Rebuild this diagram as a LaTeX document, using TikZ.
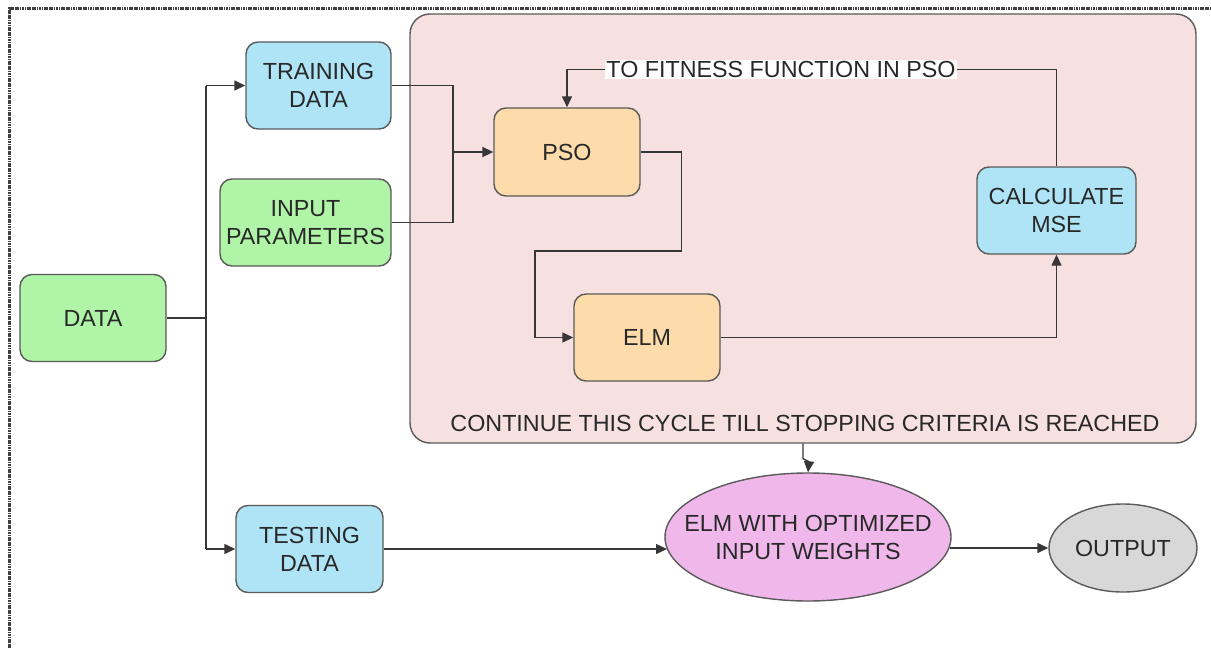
\documentclass[tikz,border=0pt]{standalone}
\usepackage{fontspec}
\setmainfont{Liberation Sans}
\usetikzlibrary{arrows.meta,shapes.geometric}

\definecolor{boxgreen}{RGB}{176,244,168}
\definecolor{boxblue}{RGB}{174,228,246}
\definecolor{boxorange}{RGB}{253,219,170}
\definecolor{cyclepink}{RGB}{246,224,224}
\definecolor{ellpink}{RGB}{240,184,234}
\definecolor{ellgray}{RGB}{216,216,216}
\definecolor{edgegray}{RGB}{90,90,90}
\definecolor{wiregray}{RGB}{55,55,55}
\definecolor{txtgray}{RGB}{40,40,40}

\tikzset{
  lbl/.style={text=txtgray, align=center, inner sep=0pt,
    font=\fontsize{23.3}{28}\selectfont},
  base/.style={lbl, draw=edgegray, line width=1.4pt},
  rbox/.style={base, rectangle, rounded corners=12pt,
    minimum width=#1},
  greenbox/.style={rbox=146pt, fill=boxgreen, minimum height=87pt},
  bluebox/.style={rbox=146pt, fill=boxblue, minimum height=87pt},
  orangebox/.style={rbox=146pt, fill=boxorange, minimum height=87pt},
  ellnode/.style={base, ellipse},
  wire/.style={draw=wiregray, line width=1.4pt},
  arrow/.style={wire, -{Triangle[length=11pt,width=10pt]}},
  frameline/.style={draw=black!75, line width=3pt, dash pattern=on 1.2pt off 0.5pt}
}

\begin{document}
\begin{tikzpicture}[x=1pt,y=-1pt]
\useasboundingbox (0,0) rectangle (1211,648);
\fill[white] (0,0) rectangle (1211,648);

% page frame
\draw[frameline] (1211,8) -- (9,8) -- (9,648);

% optimisation cycle container
\node[base, rectangle, rounded corners=20pt, fill=cyclepink,
      minimum width=786pt, minimum height=429pt] (cycle) at (803,228.5) {};
\node[lbl] (cyclelbl) at (805,423) {CONTINUE THIS CYCLE TILL STOPPING CRITERIA IS REACHED};

% boxes
\node[greenbox] (data) at (93,318) {DATA};
\node[bluebox, minimum width=145pt] (train) at (318.5,85.5) {TRAINING\\DATA};
\node[greenbox, minimum width=171pt] (param) at (305.5,222.5) {INPUT\\PARAMETERS};
\node[bluebox, minimum width=147pt] (test) at (309.5,549) {TESTING\\DATA};
\node[orangebox, minimum height=88pt] (pso) at (567,152) {PSO};
\node[orangebox] (elm) at (647,337.5) {ELM};
\node[bluebox, minimum width=159pt] (mse) at (1056.5,210.5) {CALCULATE\\MSE};

% ellipses (shape drawn empty, text placed on top)
\node[ellnode, fill=ellpink, minimum width=286pt, minimum height=128pt] (opt) at (808,537) {};
\node[lbl] (optlbl) at (opt.center) {ELM WITH OPTIMIZED\\INPUT WEIGHTS};
\node[ellnode, fill=ellgray, minimum width=148pt, minimum height=88pt] (out) at (1123,548) {};
\node[lbl] (outlbl) at (out.center) {OUTPUT};

% split and merge points
\coordinate (split) at (206,318);
\coordinate (splittop) at (206,85.5);
\coordinate (splitbot) at (206,549);
\coordinate (merge) at (453,152);
\coordinate (optin) at (667,549);
\coordinate (optout) at (950,548);

% data split
\draw[wire] (data.east) -- (split);
\draw[wire] (splittop) -- (splitbot);
\draw[arrow] (splittop) -- (train.west);
\draw[arrow] (splitbot) -- (test.west);

% inputs into PSO
\draw[wire] (train.east) -| (merge);
\draw[wire] (param.east) -| (merge);
\draw[arrow, line width=1.8pt] (merge) -- (pso.west);

% PSO to ELM
\draw[arrow] (pso.east) -- ++(41,0) -- ++(0,99) -- (535,251) |- (elm.west);

% ELM to MSE
\draw[arrow] (elm.east) -| (mse.south);

% feedback to PSO
\node[lbl, fill=white, inner sep=1pt] (fit) at (781,69.5) {TO FITNESS FUNCTION IN PSO};
\draw[wire] (mse.north) |- (fit.east);
\draw[arrow] (fit.west) -| (pso.north);

% cycle result into optimised ELM
\draw[arrow] (cycle.south) -- ++(0,15) -- ++(6,3) -- (opt.north);

% testing path and output
\draw[arrow] (test.east) -- (optin);
\draw[arrow] (optout) -- (out.west);
\end{tikzpicture}
\end{document}
